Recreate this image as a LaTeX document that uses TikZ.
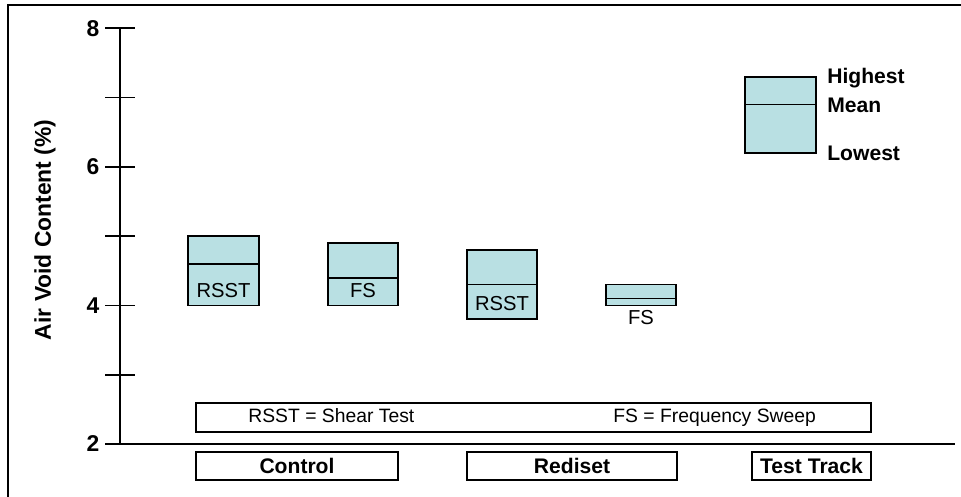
\documentclass[tikz,border=0pt]{standalone}
\usepackage{fontspec}
\setmainfont{Liberation Sans}
\usepackage{tikz}
\usetikzlibrary{positioning}
\definecolor{boxcyan}{HTML}{B9E0E3}

\begin{document}
\begin{tikzpicture}[
  rangebox/.style={fill=boxcyan, draw=black, line width=1pt},
  ticklbl/.style={left, font=\fontsize{13}{15}\selectfont\bfseries, inner sep=3pt},
  boxlbl/.style={font=\fontsize{11.5}{13}\selectfont, inner sep=1pt},
  keylbl/.style={right, font=\fontsize{12}{14}\selectfont\bfseries, inner sep=0pt},
  abbrlbl/.style={right, font=\fontsize{11}{13}\selectfont, inner sep=0pt,
    text height=1.6ex, text depth=0.45ex},
  catbox/.style={draw=black, line width=1pt, minimum height=0.56cm,
    inner sep=0pt, font=\fontsize{12}{14}\selectfont\bfseries}]
  \useasboundingbox (0,0) rectangle (19.22,9.94);

  % Frame (left and top edges only)
  \draw[line width=1.6pt] (0.16,0) -- (0.16,9.84) -- (19.22,9.84);

  % Data scope: y is in % air voids
  \begin{scope}[yshift=-1.712cm, y=1.386cm]
    % Axis lines
    \draw[line width=1pt] (2.40,8) -- (2.40,2) -- (19.10,2);
    \foreach \v in {2,...,8}
      \draw[line width=1pt] (2.10,\v) -- (2.70,\v);
    \foreach \v in {2,4,6,8}
      \node[ticklbl] (tick\v) at (2.10,\v) {\v};

    \node[rotate=90, font=\fontsize{13}{15}\selectfont\bfseries]
      (ylabel) at (0.90,5.09) {Air Void Content (\%)};

    % Range boxes: left/right/highest/mean/lowest
    \foreach \xl/\xr/\hi/\mn/\lo in {3.76/5.18/5.0/4.6/4.0,
                                     6.56/7.96/4.9/4.4/4.0,
                                     9.34/10.74/4.8/4.3/3.8,
                                     12.12/13.52/4.3/4.1/4.0,
                                     14.90/16.32/7.3/6.9/6.2} {
      \filldraw[rangebox] (\xl,\lo) rectangle (\xr,\hi);
      \draw[line width=1pt] (\xl,\mn) -- (\xr,\mn);
    }

    % Test labels
    \node[boxlbl] (rsstctl) at (4.47,4.22) {RSST};
    \node[boxlbl] (fsctl)   at (7.26,4.22) {FS};
    \node[boxlbl] (rsstred) at (10.04,4.03) {RSST};
    \node[boxlbl] (fsred)   at (12.82,3.82) {FS};

    % Key beside test track box
    \node[keylbl] (khigh) at (16.54,7.28) {Highest};
    \node[keylbl] (kmean) at (16.54,6.88) {Mean};
    \node[keylbl] (klow)  at (16.54,6.20) {Lowest};

    % Abbreviation legend
    \node[draw=black, line width=1pt, minimum width=13.50cm,
      minimum height=0.58cm, inner sep=0pt] (abbr) at (10.67,2.38) {};
    \node[abbrlbl] (abbrrsst) at (4.96,2.38) {RSST = Shear Test};
    \node[abbrlbl] (abbrfs)   at (12.26,2.38) {FS = Frequency Sweep};

    % Category boxes
    \node[catbox, minimum width=4.04cm] (control) at (5.94,1.68) {Control};
    \node[catbox, minimum width=4.20cm] (rediset) at (11.44,1.68) {Rediset};
    \node[catbox, minimum width=2.38cm] (track)   at (16.23,1.68) {Test Track};
  \end{scope}
\end{tikzpicture}
\end{document}
